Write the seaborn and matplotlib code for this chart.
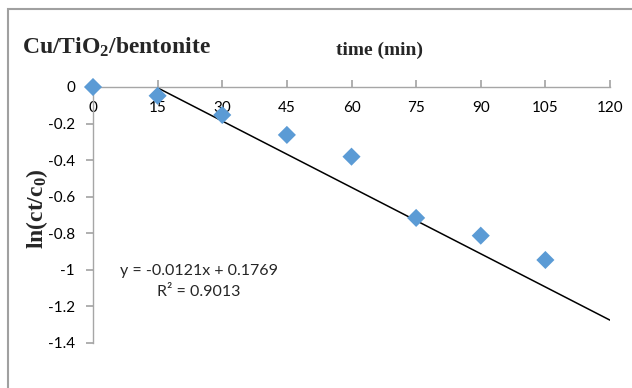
import numpy as np
import pandas as pd
import seaborn as sns
import matplotlib.pyplot as plt
from matplotlib.patches import Rectangle

# data
time_min = [0, 15, 30, 45, 60, 75, 90, 105]
ln_ratio = [0.0, -0.048, -0.153, -0.262, -0.381, -0.716, -0.813, -0.946]
x_ticks = [0, 15, 30, 45, 60, 75, 90, 105, 120]
y_ticks = [0, -0.2, -0.4, -0.6, -0.8, -1, -1.2, -1.4]
y_tick_labels = ["0", "-0.2", "-0.4", "-0.6", "-0.8", "-1", "-1.2", "-1.4"]
slope = -0.0121
intercept = 0.1769
r2 = 0.9013

sns.set_theme(style="white")
plt.rcParams['font.family'] = ['Lato', 'DejaVu Sans']
plt.rcParams['mathtext.fontset'] = 'custom'
plt.rcParams['mathtext.rm'] = 'Liberation Serif:bold'
plt.rcParams['mathtext.bf'] = 'Liberation Serif:bold'
plt.rcParams['mathtext.it'] = 'Liberation Serif:bold'

fig = plt.figure(figsize=(6.32, 3.88), dpi=100)
ax = fig.add_axes([93/632, 1 - 343/388, (610 - 93)/632, (343 - 87)/388])

df = pd.DataFrame({"time": time_min, "ln": ln_ratio})
sns.scatterplot(data=df, x="time", y="ln", ax=ax, marker="D", s=85,
				color="#5B9BD5", edgecolor="none", clip_on=False, zorder=3)

# excel style linear trendline
fit_x = np.array([x_ticks[0], x_ticks[-1]])
ax.plot(fit_x, slope * fit_x + intercept, color="black", lw=1.1, zorder=2)

ax.set_xlim(0, 120)
ax.set_ylim(-1.4, 0)
ax.set_xticks(x_ticks)
ax.set_yticks(y_ticks)
ax.set_yticklabels(y_tick_labels)
ax.set_xlabel("")
ax.set_ylabel("")

ax.spines['top'].set_visible(False)
ax.spines['right'].set_visible(False)
ax.spines['bottom'].set_position(('data', 0))
for s in ['bottom', 'left']:
	ax.spines[s].set_color("#a6a6a6")
	ax.spines[s].set_linewidth(1.0)
ax.tick_params(axis='x', direction='in', length=5, color="#a6a6a6", labelsize=11, pad=10, bottom=True)
ax.tick_params(axis='y', direction='out', length=5, color="#a6a6a6", labelsize=11, pad=8, left=True)
for lab in ax.get_xticklabels() + ax.get_yticklabels():
	lab.set_color("black")
	lab.set_clip_on(False)

fig.text(22/632, 1 - 47/388, r"Cu/TiO$_2$/bentonite", family="Liberation Serif",
		 fontweight="bold", fontsize=17, va="center", ha="left")
fig.text(379/632, 1 - 50/388, "time (min)", family="Liberation Serif",
		 fontweight="bold", fontsize=14, va="center", ha="center")
fig.text(37/632, 1 - 209/388, r"ln(ct/c$_0$)", family="Liberation Serif",
		 fontweight="bold", fontsize=17, va="center", ha="center", rotation=90)

fig.text(199/632, 1 - 271/388, f"y = {slope}x + {intercept}", fontsize=11.5,
		 ha="center", va="center")
fig.text(199/632, 1 - 292/388, f"R² = {r2}", fontsize=11.5,
		 ha="center", va="center")

# chart area border
fig.patches.append(Rectangle((8/632, -0.1), 1.2, 1 - 9/388 + 0.1, transform=fig.transFigure,
							 fill=False, edgecolor="#a0a0a0", lw=1.5))

fig.savefig("out.png", dpi=100)
